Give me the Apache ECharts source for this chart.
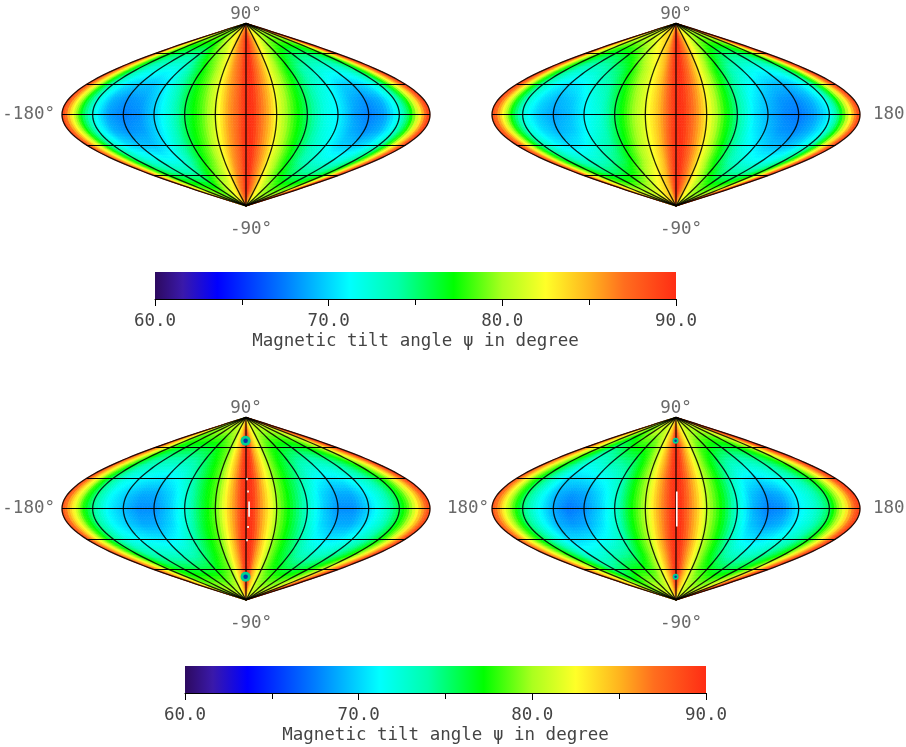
<!DOCTYPE html>
<html><head><meta charset="utf-8">
<style>html,body{margin:0;padding:0;background:#fff}#c{width:906px;height:747px}</style>
<script src="https://cdn.jsdelivr.net/npm/echarts@6/dist/echarts.min.js"></script>
</head><body><div id="c"></div>
<script>
// Tilt angle (degrees) at these longitudes (distance from the central stripe) and latitudes
const lonColumns = [0,5,10,20,30,45,60,75,90,105,120,135,150,160,166,172,177,180];
const latRows = [0,15,30,45,60,75,90];

const p1Lat0  = [90,89.5,87.5,85,81.5,78,75,72,70.8,68.5,67.5,68.5,72,76,80,84,88,89.5];
const p1Lat15 = [90,89.5,87.5,85,81.7,78.2,75.2,72.3,71,69,68,69,72.3,76.5,80.5,84.5,88,89.5];
const p1Lat30 = [90,89.5,87.5,85,82,78.5,75.5,73,71.5,70,69.5,70.5,73,77.5,81.5,85,88,89.5];
const p1Lat45 = [90,89.5,87.5,85.2,82,79,76.2,74,72.8,72,72,72.5,75,78.5,82,85.5,88,89.5];
const p1Lat60 = [90,89.5,87.5,85.5,83,80,78,76.5,75.5,75,75,75.5,77,80,83,86,88.5,89.5];
const p1Lat75 = [90,89.5,88,86,84,82,80.5,79.5,79,79,79,79,80,82,84,87,89,89.5];
const p1Lat90 = [88,88,86,85,84,83,82,82,81,81,81,81,82,83,84,86,88,88];
const p1West  = [0,0,0,0.5,0.5,0.5,1,0.5,-0.8,-0.5,0,0,0,0,0,0,0,0];

const p2Lat0  = [90,89.5,88,85.5,82.3,78,74,70.5,69,67.8,67.3,68.5,71,75.5,79.5,83.5,87.5,89];
const p2Lat15 = [90,89.5,88,85.5,82.3,78,74.2,71,69.4,68.2,67.8,69,71.5,76,80,84,87.7,89.2];
const p2Lat30 = [90,89.5,88,85.5,82.3,78.3,74.8,72,70.5,69.5,69,70,72.5,77,81,85,88,89.5];
const p2Lat45 = [90,89.5,88,85.5,82.5,78.8,75.8,73.5,72.3,71.5,71.5,72,74.5,78,81.5,85.5,88.3,89.5];
const p2Lat60 = [90,89.5,88,86,83.5,80.5,78,76.3,75.2,74.8,74.8,75.5,77.5,80.5,83,86.5,88.5,89.5];
const p2Lat75 = [90,89.5,88,86,84,82,80.5,79.5,79,79,79,79.5,80.5,82.5,84.5,87,89,89.5];
const p2Lat90 = [90,88,86,85,84,83,82,82,81,81,81,81,82,83,84,86,88,88];
const p2West  = [0,0,-0.5,-1,0,1.5,2,2,2,1.5,1.2,1.2,1.2,1,1,1,0.5,-0.5];

const p3Lat0  = [90,89.5,87,83.5,79.5,76,72.7,69.8,68,68,70,72.5,76,79,82,85,87.5,89];
const p3Lat15 = [90,89.5,87,83.3,79.5,76.2,73,70.2,68.8,68.8,70.5,72.7,76.2,79.3,82.2,85.2,87.8,89.2];
const p3Lat30 = [90,89.5,87,83,79.5,76.5,74,71.5,70.5,70.8,71.8,73.5,76.5,79.5,82.5,85.5,88,89.5];
const p3Lat45 = [90,89.3,86.5,83,79.7,77,75.2,73.5,73,73,74,75.5,78.2,81,83.5,86,88.5,89.5];
const p3Lat60 = [90,89,86,83,80,78,77,76.3,76,76.3,77,78.5,81,84,85.5,87,89,89.5];
const p3Lat75 = [89,88,85,83,81,80,79.5,79.5,79.5,79.5,80,80.5,82.5,84.5,86,87.5,89,89.5];
const p3Lat90 = [86,85,84,83,83,82,82,82,82,82,82,82,83,84,85,86,88,88];
const p3West  = [0,0,0,0,-0.5,0,-0.3,0,0,0,-0.7,-1.5,-1.5,-1,-0.5,-0.5,0,-0.5];

const p4Lat0  = [90,89.5,87.5,84.5,80.5,77,72.5,69,67.5,68,70.8,72.5,75.5,80,82.5,86,88.5,89];
const p4Lat15 = [90,89.5,87.5,84.4,80.5,77,72.8,69.6,68.3,69,71,72.7,75.8,80,82.7,86,88.5,89.2];
const p4Lat30 = [90,89.5,87.5,84.3,80.5,77.2,73.5,71,70.3,71,72,73.5,76.5,80,83,86,88.5,89.5];
const p4Lat45 = [90,89.3,87,84,80.5,77.5,75,73.3,72.8,73,74,75.5,78,81.5,84,86.5,88.7,89.5];
const p4Lat60 = [90,89,87,84,81,78.5,77.5,76.5,76,76,76.5,78,80.5,83.5,85.5,87.5,89,89.5];
const p4Lat75 = [89,88,85.5,83.5,82,80.5,80,79.5,79.5,79.5,80,81,82.5,84.5,86.5,88,89,89.5];
const p4Lat90 = [86,85,84,83,83,82,82,82,82,82,82,82,83,84,85,86,88,88];
const p4West  = [0,0,0,0,0,0,0,0.8,0.5,-0.7,-2,-1,-0.5,-1,-1,-1,-1,-0.5];

// Colour scale
const scaleValues = [60,61.6,63.6,67.5,71.2,74,77.2,80,82.5,85,87,90];
const scaleColors = [[45,10,95],[58,25,170],[0,0,255],[0,125,255],[0,255,255],[0,255,170],[0,255,0],[170,255,30],[255,255,40],[255,180,30],[255,110,30],[255,45,20]];

const colorbarTicks = [60,70,80,90];
const colorbarTitle = 'Magnetic tilt angle ψ in degree';
const meridians = [-180,-150,-120,-90,-60,-30,0,30,60,90,120,150,180];
const parallels = [-60,-30,0,30,60];

// Spots of other values and blank pixels seen in the lower maps: [lon, lat]
const p3Spots = [[-1,67],[-1,-67]];
const p4Spots = [[-1,67],[-1,-67]];
const p3Gaps = [[1,30,1,28],[2,18,2,16],[3,7,3,-8],[2,-17,2,-19],[1,-30,1,-32]];
const p4Gaps = [[0.8,17,0.8,-17.5]];

const panels = [
  {left:62, top:23.4, rows:[p1Lat0,p1Lat15,p1Lat30,p1Lat45,p1Lat60,p1Lat75,p1Lat90], west:p1West, center:3,
   labels:[['90°',0,90,'top',[0,3]],['-90°',0,-90,'bottom',[5,11]],['-180°',-180,0,'left',[-4,0]]]},
  {left:492, top:23.4, rows:[p2Lat0,p2Lat15,p2Lat30,p2Lat45,p2Lat60,p2Lat75,p2Lat90], west:p2West, center:3,
   labels:[['90°',0,90,'top',[0,3]],['-90°',0,-90,'bottom',[5,11]],['180',180,0,'right',[10,0]]]},
  {left:62, top:417.4, rows:[p3Lat0,p3Lat15,p3Lat30,p3Lat45,p3Lat60,p3Lat75,p3Lat90], west:p3West, center:2, spots:p3Spots, spotSize:[10,4.5], gaps:p3Gaps,
   labels:[['90°',0,90,'top',[0,3]],['-90°',0,-90,'bottom',[5,11]],['-180°',-180,0,'left',[-4,0]],['180°',180,0,'right',[14,0]]]},
  {left:492, top:417.4, rows:[p4Lat0,p4Lat15,p4Lat30,p4Lat45,p4Lat60,p4Lat75,p4Lat90], west:p4West, center:1, spots:p4Spots, spotSize:[6,2.5], gaps:p4Gaps,
   labels:[['90°',0,90,'top',[0,3]],['-90°',0,-90,'bottom',[5,11]],['180',180,0,'right',[10,0]]]}
];
const colorbars = [{left:155, top:272},{left:185, top:666}];

const FONT = 'DejaVu Sans Mono';
const TEXT = '#444';

function colorOf(v){
  v = Math.max(60, Math.min(90, v));
  let i = 0;
  while (i < scaleValues.length-2 && v > scaleValues[i+1]) i++;
  const t = (v-scaleValues[i])/(scaleValues[i+1]-scaleValues[i]);
  const a = scaleColors[i], b = scaleColors[i+1];
  return 'rgb('+[0,1,2].map(k=>Math.round(a[k]+(b[k]-a[k])*t)).join(',')+')';
}
const cosd = d => Math.cos(d*Math.PI/180);

// Table cells of one map, each [lon0,lon1,lat0,lat1,v00,v10,v01,v11]
function cellsOf(p){
  const lons = [], latLevels = [];
  for (let i=lonColumns.length-1;i>0;i--) lons.push({lon:p.center-lonColumns[i]*(180+p.center)/180, c:i, w:true});
  for (let i=0;i<lonColumns.length;i++) lons.push({lon:p.center+lonColumns[i]*(180-p.center)/180, c:i, w:false});
  for (let j=latRows.length-1;j>0;j--) latLevels.push({lat:-latRows[j], r:j});
  for (let j=0;j<latRows.length;j++) latLevels.push({lat:latRows[j], r:j});
  const val = (l,a) => p.rows[a.r][l.c] + (l.w ? p.west[l.c] : 0);
  const out = [];
  for (let i=0;i<lons.length-1;i++) for (let j=0;j<latLevels.length-1;j++){
    const a=lons[i], b=lons[i+1], s=latLevels[j], n=latLevels[j+1];
    out.push([a.lon,b.lon,s.lat,n.lat,val(a,s),val(b,s),val(a,n),val(b,n)]);
  }
  return out;
}

function renderCell(params, api){
  const lon0=api.value(0), lon1=api.value(1), lat0=api.value(2), lat1=api.value(3);
  const v00=api.value(4), v10=api.value(5), v01=api.value(6), v11=api.value(7);
  const nx=Math.max(1,Math.ceil((lon1-lon0)/3)), ny=Math.max(1,Math.ceil((lat1-lat0)/3));
  const P=(lon,lat)=>api.coord([lon*cosd(lat),lat]);
  const children=[];
  for(let i=0;i<nx;i++) for(let j=0;j<ny;j++){
    const u0=i/nx,u1=(i+1)/nx,w0=j/ny,w1=(j+1)/ny;
    const um=(u0+u1)/2, wm=(w0+w1)/2;
    const v=(v00*(1-um)+v10*um)*(1-wm)+(v01*(1-um)+v11*um)*wm;
    const la=lon0+(lon1-lon0)*u0, lb=lon0+(lon1-lon0)*u1, fa=lat0+(lat1-lat0)*w0, fb=lat0+(lat1-lat0)*w1;
    const col=colorOf(v);
    children.push({type:'polygon',shape:{points:[P(la,fa),P(lb,fa),P(lb,fb),P(la,fb)]},
      style:{fill:col,stroke:col,lineWidth:0.7},silent:true});
  }
  return {type:'group',children};
}

function renderLine(params, api){
  const lon0=api.value(0), lat0=api.value(1), lon1=api.value(2), lat1=api.value(3);
  const pts=[];
  if (lat0===lat1){
    const a=api.coord([lon0*cosd(lat0),lat0]), b=api.coord([lon1*cosd(lat0),lat0]);
    const y=Math.floor(a[1])+0.5;
    pts.push([a[0],y],[b[0],y]);
    return {type:'polyline',shape:{points:pts},style:{fill:null,stroke:'#000',lineWidth:1.2},silent:true};
  }
  for(let k=0;k<=90;k++){
    const lat=lat0+(lat1-lat0)*k/90;
    pts.push(api.coord([lon0*cosd(lat),lat]));
  }
  return {type:'polyline',shape:{points:pts},style:{fill:null,stroke:'rgba(0,0,0,0.85)',lineWidth:1.3},silent:true};
}

function renderGap(params, api){
  const a=api.coord([api.value(0),api.value(1)]), b=api.coord([api.value(2),api.value(3)]);
  return {type:'line',shape:{x1:a[0],y1:a[1],x2:b[0],y2:b[1]},style:{stroke:'#fff',lineWidth:1.6},silent:true};
}

const grid=[], xAxis=[], yAxis=[], series=[];
panels.forEach((p,idx)=>{
  grid.push({left:p.left,top:p.top,width:368,height:182.6});
  xAxis.push({type:'value',gridIndex:idx,min:-180,max:180,show:false});
  yAxis.push({type:'value',gridIndex:idx,min:-90,max:90,show:false});
  const ax={xAxisIndex:idx,yAxisIndex:idx,animation:false,silent:true};
  series.push({...ax,type:'custom',z:1,clip:false,progressive:0,renderItem:renderCell,
    encode:{x:[0,1],y:[2,3]},data:cellsOf(p)});
  const lines=[];
  meridians.forEach(m=>lines.push([m,-90,m,90]));
  parallels.forEach(l=>lines.push([-180,l,180,l]));
  series.push({...ax,type:'custom',z:2,clip:false,progressive:0,renderItem:renderLine,
    encode:{x:[0,2],y:[1,3]},data:lines});
  if(p.spots){
    const pts=p.spots.map(s=>[s[0]*cosd(s[1]),s[1]]);
    series.push({...ax,type:'scatter',z:3,symbolSize:p.spotSize[0],itemStyle:{color:'#00d090',opacity:1},data:pts});
    series.push({...ax,type:'scatter',z:4,symbolSize:p.spotSize[1],itemStyle:{color:'#0a2fa8',opacity:1},data:pts});
  }
  if(p.gaps){
    series.push({...ax,type:'custom',z:5,clip:false,renderItem:renderGap,encode:{x:[0,2],y:[1,3]},data:p.gaps});
  }
  series.push({...ax,type:'scatter',z:6,symbolSize:0,
    data:p.labels.map(l=>({value:[l[1],l[2]],label:{show:true,formatter:l[0],position:l[3],offset:l[4],
      fontFamily:FONT,fontSize:17.5,color:TEXT,distance:3}}))});
});
colorbars.forEach((b,k)=>{
  const idx=panels.length+k;
  grid.push({left:b.left,top:b.top,width:521,height:27});
  xAxis.push({type:'value',gridIndex:idx,min:60,max:90,interval:10,position:'bottom',
    axisLine:{show:true,onZero:false,lineStyle:{color:'#000',width:1}},
    axisTick:{show:true,length:7,lineStyle:{color:'#000'}},
    minorTick:{show:true,splitNumber:2,length:6,lineStyle:{color:'#000'}},
    splitLine:{show:false},minorSplitLine:{show:false},
    axisLabel:{show:true,margin:13,fontFamily:FONT,fontSize:17.5,color:TEXT,formatter:v=>v.toFixed(1),
      customValues:colorbarTicks},
    name:colorbarTitle,nameLocation:'middle',nameGap:33,
    nameTextStyle:{fontFamily:FONT,fontSize:17.5,color:TEXT}});
  yAxis.push({type:'value',gridIndex:idx,min:0,max:1,show:false});
  series.push({type:'custom',xAxisIndex:idx,yAxisIndex:idx,animation:false,silent:true,clip:false,z:1,
    encode:{x:[0,1]},data:[[60,90]],
    renderItem:(params,api)=>{
      const a=api.coord([api.value(0),1]), c=api.coord([api.value(1),0]);
      return {type:'rect',shape:{x:a[0],y:a[1],width:c[0]-a[0],height:c[1]-a[1]},
        style:{fill:new echarts.graphic.LinearGradient(0,0,1,0,
          scaleValues.map((v,i)=>({offset:(v-60)/30,color:colorOf(v)})))},silent:true};
    }});
});

const chart=echarts.init(document.getElementById('c'),null,{renderer:'canvas'});
chart.setOption({animation:false,backgroundColor:'#fff',grid,xAxis,yAxis,series,tooltip:{show:false}});
</script></body></html>
